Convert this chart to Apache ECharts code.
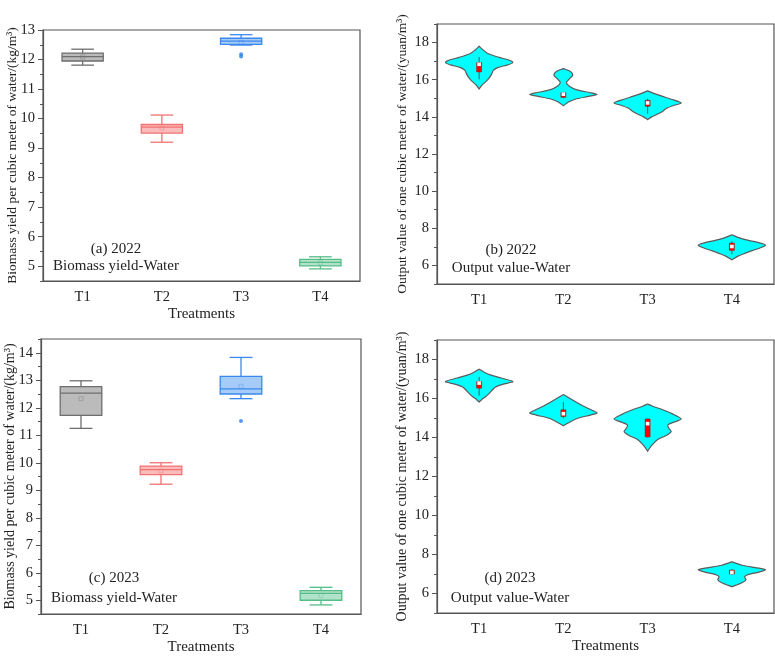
<!DOCTYPE html>
<html style="height: 100%">
<head>
    <meta charset="utf-8">
    <script src="https://cdn.jsdelivr.net/npm/echarts@6/dist/echarts.min.js"></script>
</head>
<body style="height: 100%; margin: 0; background: #fff">
    <div id="main" style="width: 775px; height: 658px;"></div>
    <script type="text/javascript">
    // categories and tick labels
    var cats = ['T1', 'T2', 'T3', 'T4'];
    var ticksBio22 = [5, 6, 7, 8, 9, 10, 11, 12, 13];
    var ticksBio23 = [5, 6, 7, 8, 9, 10, 11, 12, 13, 14];
    var ticksOut = [6, 8, 10, 12, 14, 16, 18];

    // boxplot stats: [min, q1, median, q3, max, mean]
    var bio2022 = [
        [11.81, 11.95, 12.10, 12.22, 12.35, 12.09],
        [9.20, 9.51, 9.71, 9.80, 10.12, 9.68],
        [12.49, 12.51, 12.62, 12.72, 12.84, 12.58],
        [4.91, 5.01, 5.13, 5.23, 5.32, 5.12]
    ];
    var bio2023 = [
        [11.25, 11.72, 12.53, 12.77, 12.98, 12.33],
        [9.22, 9.57, 9.75, 9.88, 10.00, 9.70],
        [12.33, 12.50, 12.69, 13.14, 13.83, 12.78],
        [4.83, 5.00, 5.25, 5.35, 5.47, 5.17]
    ];
    // outliers: [category index, value]
    var bioOut2022 = [[2, 12.18], [2, 12.10]];
    var bioOut2023 = [[2, 11.52]];

    // violin outlines: [value, relative half width]
    var violin2022 = [
        [[17.8, 0], [17.6, 0.12], [17.4, 0.27], [17.2, 0.6], [17.05, 0.9], [16.92, 1.0], [16.8, 0.85], [16.65, 0.55], [16.5, 0.42], [16.3, 0.37], [16.1, 0.3], [15.9, 0.2], [15.7, 0.08], [15.5, 0]],
        [[16.6, 0], [16.45, 0.2], [16.25, 0.28], [16.05, 0.18], [15.85, 0.09], [15.65, 0.18], [15.45, 0.4], [15.3, 0.8], [15.2, 1.0], [15.1, 0.75], [14.95, 0.35], [14.8, 0.15], [14.6, 0]],
        [[15.4, 0], [15.25, 0.2], [15.1, 0.45], [14.95, 0.7], [14.75, 1.0], [14.6, 0.75], [14.45, 0.55], [14.3, 0.45], [14.15, 0.3], [14.0, 0.12], [13.85, 0]],
        [[7.65, 0], [7.5, 0.2], [7.35, 0.5], [7.2, 0.85], [7.08, 1.0], [6.95, 0.85], [6.8, 0.6], [6.65, 0.38], [6.5, 0.18], [6.3, 0]]
    ];
    var violin2023 = [
        [[17.5, 0], [17.35, 0.15], [17.2, 0.35], [17.05, 0.65], [16.87, 1.0], [16.75, 0.75], [16.6, 0.5], [16.45, 0.4], [16.3, 0.32], [16.1, 0.2], [15.95, 0.08], [15.82, 0]],
        [[16.2, 0], [16.0, 0.2], [15.8, 0.4], [15.6, 0.6], [15.4, 0.85], [15.26, 1.0], [15.15, 0.8], [15.0, 0.45], [14.85, 0.25], [14.7, 0.1], [14.6, 0]],
        [[15.72, 0], [15.6, 0.15], [15.42, 0.45], [15.2, 0.75], [14.95, 1.0], [14.8, 0.8], [14.65, 0.6], [14.5, 0.62], [14.3, 0.7], [14.1, 0.55], [13.9, 0.3], [13.6, 0.12], [13.3, 0]],
        [[7.62, 0], [7.45, 0.3], [7.3, 0.8], [7.22, 1.0], [7.1, 0.8], [6.95, 0.45], [6.85, 0.38], [6.7, 0.42], [6.55, 0.3], [6.35, 0]]
    ];
    // inner box of violins: [whisker low, q1, q3, whisker high, mean]
    var out2022 = [
        [16.02, 16.42, 16.92, 17.22, 16.83],
        [15.00, 15.05, 15.30, 15.35, 15.22],
        [14.17, 14.57, 14.89, 14.98, 14.75],
        [6.60, 6.81, 7.20, 7.30, 7.02]
    ];
    var out2023 = [
        [16.14, 16.53, 16.87, 17.10, 16.79],
        [14.98, 15.08, 15.42, 15.82, 15.22],
        [14.00, 14.03, 14.95, 14.97, 14.71],
        [6.95, 7.00, 7.20, 7.25, 7.08]
    ];

    var boxColors = [
        { line: '#6e6e6e', fill: 'rgba(120,120,120,0.5)' },
        { line: '#f27272', fill: 'rgba(245,120,120,0.5)' },
        { line: '#3b88ee', fill: 'rgba(60,140,240,0.45)' },
        { line: '#55bd87', fill: 'rgba(85,190,135,0.45)' }
    ];
    var font = 'Liberation Serif, Times New Roman, serif';

    var myChart = echarts.init(document.getElementById('main'));

    function boxRender(params, api) {
        var c = boxColors[params.dataIndex];
        var cat = api.value(0);
        var band = api.size([1, 0])[0];
        var bw = band * 0.52;
        var cw = bw * 0.55;
        var x = api.coord([cat, 0])[0];
        var yMin = api.coord([cat, api.value(1)])[1];
        var yQ1 = api.coord([cat, api.value(2)])[1];
        var yMed = api.coord([cat, api.value(3)])[1];
        var yQ3 = api.coord([cat, api.value(4)])[1];
        var yMax = api.coord([cat, api.value(5)])[1];
        var yMean = api.coord([cat, api.value(6)])[1];
        var ls = { stroke: c.line, lineWidth: 1.3 };
        return {
            type: 'group',
            children: [
                { type: 'line', shape: { x1: x, y1: yQ3, x2: x, y2: yMax }, style: ls },
                { type: 'line', shape: { x1: x, y1: yQ1, x2: x, y2: yMin }, style: ls },
                { type: 'line', shape: { x1: x - cw / 2, y1: yMax, x2: x + cw / 2, y2: yMax }, style: ls },
                { type: 'line', shape: { x1: x - cw / 2, y1: yMin, x2: x + cw / 2, y2: yMin }, style: ls },
                { type: 'rect', shape: { x: x - bw / 2, y: yQ3, width: bw, height: yQ1 - yQ3 }, style: { fill: c.fill, stroke: c.line, lineWidth: 1.3 } },
                { type: 'line', shape: { x1: x - bw / 2, y1: yMed, x2: x + bw / 2, y2: yMed }, style: ls },
                { type: 'rect', shape: { x: x - 2, y: yMean - 2, width: 4, height: 4 }, style: { fill: 'none', stroke: c.line, lineWidth: 0.6, opacity: 0.6 } }
            ]
        };
    }

    function violinRender(profiles) {
        return function(params, api) {
            var cat = api.value(0);
            var band = api.size([1, 0])[0];
            var half = band * 0.4;
            var prof = profiles[params.dataIndex];
            var right = [], left = [];
            prof.forEach(function(p) {
                var pt = api.coord([cat, p[0]]);
                right.push([pt[0] + p[1] * half, pt[1]]);
                left.unshift([pt[0] - p[1] * half, pt[1]]);
            });
            var x = api.coord([cat, 0])[0];
            var yLo = api.coord([cat, api.value(1)])[1];
            var yQ1 = api.coord([cat, api.value(2)])[1];
            var yQ3 = api.coord([cat, api.value(3)])[1];
            var yHi = api.coord([cat, api.value(4)])[1];
            var yMean = api.coord([cat, api.value(5)])[1];
            var bw = 5;
            return {
                type: 'group',
                children: [
                    { type: 'polygon', shape: { points: right.concat(left), smooth: 0.25 }, style: { fill: '#00ffff', stroke: '#5a5a5a', lineWidth: 1.2 } },
                    { type: 'line', shape: { x1: x, y1: yHi, x2: x, y2: yLo }, style: { stroke: '#555', lineWidth: 1 } },
                    { type: 'rect', shape: { x: x - bw / 2, y: yQ3, width: bw, height: Math.max(yQ1 - yQ3, 2) }, style: { fill: '#ff0000', stroke: '#b00000', lineWidth: 0.5 } },
                    { type: 'rect', shape: { x: x - 1.8, y: yMean - 1.8, width: 3.6, height: 3.6 }, style: { fill: '#ffffff', stroke: 'none' } }
                ]
            };
        };
    }

    function xAx(idx, withName) {
        return {
            type: 'category', gridIndex: idx, data: cats,
            name: withName ? 'Treatments' : '', nameLocation: 'middle', nameGap: 26,
            nameTextStyle: { fontFamily: font, fontSize: 15, color: '#222' },
            axisLine: { lineStyle: { color: '#555', width: 1.2 } },
            axisTick: { alignWithLabel: true, length: 5, lineStyle: { color: '#555' } },
            axisLabel: { fontFamily: font, fontSize: 14.5, color: '#222', margin: 9 },
            splitLine: { show: false }
        };
    }

    function yAxPair(idx, min, max, step, ticks, name, nameSize, nameGap) {
        return [{
            type: 'value', gridIndex: idx, position: 'left', min: min, max: max, interval: step,
            name: name, nameLocation: 'middle', nameGap: nameGap, nameRotate: 90, nameMoveOverlap: false,
            nameTextStyle: { fontFamily: font, fontSize: nameSize, color: '#222' },
            axisLine: { show: true, lineStyle: { color: '#555', width: 1.2 } },
            axisTick: { show: true, length: 3, lineStyle: { color: '#555' } },
            axisLabel: { fontFamily: font, fontSize: 14.5, color: '#222', margin: 8, customValues: ticks },
            splitLine: { show: false }
        }, {
            type: 'value', gridIndex: idx, position: 'left', offset: 0, min: min, max: max, interval: step,
            axisLine: { show: false },
            axisTick: { show: true, length: 5, customValues: ticks, lineStyle: { color: '#555' } },
            axisLabel: { show: false },
            splitLine: { show: false }
        }];
    }

    var gridStyle = { show: true, borderColor: '#555', borderWidth: 1.2, backgroundColor: 'transparent' };
    function label(text, left, top, lh) {
        return {
            text: text, left: left, top: top, textAlign: 'center',
            textStyle: { fontFamily: font, fontSize: 15, fontWeight: 'normal', color: '#222', lineHeight: lh }
        };
    }

    var yAxes = []
        .concat(yAxPair(0, 4.5, 13, 0.5, ticksBio22, 'Biomass yield per cubic meter of water/(kg/m³)', 13.5, 24))
        .concat(yAxPair(1, 5, 19, 1, ticksOut, 'Output value of one cubic meter of water/(yuan/m³)', 13.5, 28))
        .concat(yAxPair(2, 4.5, 14.5, 0.5, ticksBio23, 'Biomass yield per cubic meter of water/(kg/m³)', 14, 24))
        .concat(yAxPair(3, 5, 19, 1, ticksOut, 'Output value of one cubic meter of water/(yuan/m³)', 14, 28));

    var option = {
        animation: false,
        backgroundColor: '#fff',
        title: [
            label('(a) 2022\nBiomass yield-Water', 111, 236, 17),
            label('(b) 2022\nOutput value-Water', 506, 236, 18),
            label('(c) 2023\nBiomass yield-Water', 109, 563, 20),
            label('(d) 2023\nOutput value-Water', 505, 563, 20)
        ],
        grid: [
            Object.assign({ left: 43, top: 30, width: 317, height: 251 }, gridStyle),
            Object.assign({ left: 437, top: 24, width: 337, height: 260 }, gridStyle),
            Object.assign({ left: 41, top: 339, width: 320, height: 275 }, gridStyle),
            Object.assign({ left: 437, top: 340, width: 337, height: 273 }, gridStyle)
        ],
        xAxis: [xAx(0, true), xAx(1, false), xAx(2, true), xAx(3, true)],
        yAxis: yAxes,
        series: [{
            type: 'custom', xAxisIndex: 0, yAxisIndex: 0, renderItem: boxRender,
            data: bio2022.map(function(b, i) { return [i].concat(b); })
        }, {
            type: 'scatter', xAxisIndex: 0, yAxisIndex: 0, symbolSize: 4,
            itemStyle: { color: '#2f7fe8' }, data: bioOut2022
        }, {
            type: 'custom', xAxisIndex: 1, yAxisIndex: 2, renderItem: violinRender(violin2022),
            data: out2022.map(function(b, i) { return [i].concat(b); })
        }, {
            type: 'custom', xAxisIndex: 2, yAxisIndex: 4, renderItem: boxRender,
            data: bio2023.map(function(b, i) { return [i].concat(b); })
        }, {
            type: 'scatter', xAxisIndex: 2, yAxisIndex: 4, symbolSize: 4,
            itemStyle: { color: '#2f7fe8' }, data: bioOut2023
        }, {
            type: 'custom', xAxisIndex: 3, yAxisIndex: 6, renderItem: violinRender(violin2023),
            data: out2023.map(function(b, i) { return [i].concat(b); })
        }]
    };

    myChart.setOption(option);
    </script>
</body>
</html>
